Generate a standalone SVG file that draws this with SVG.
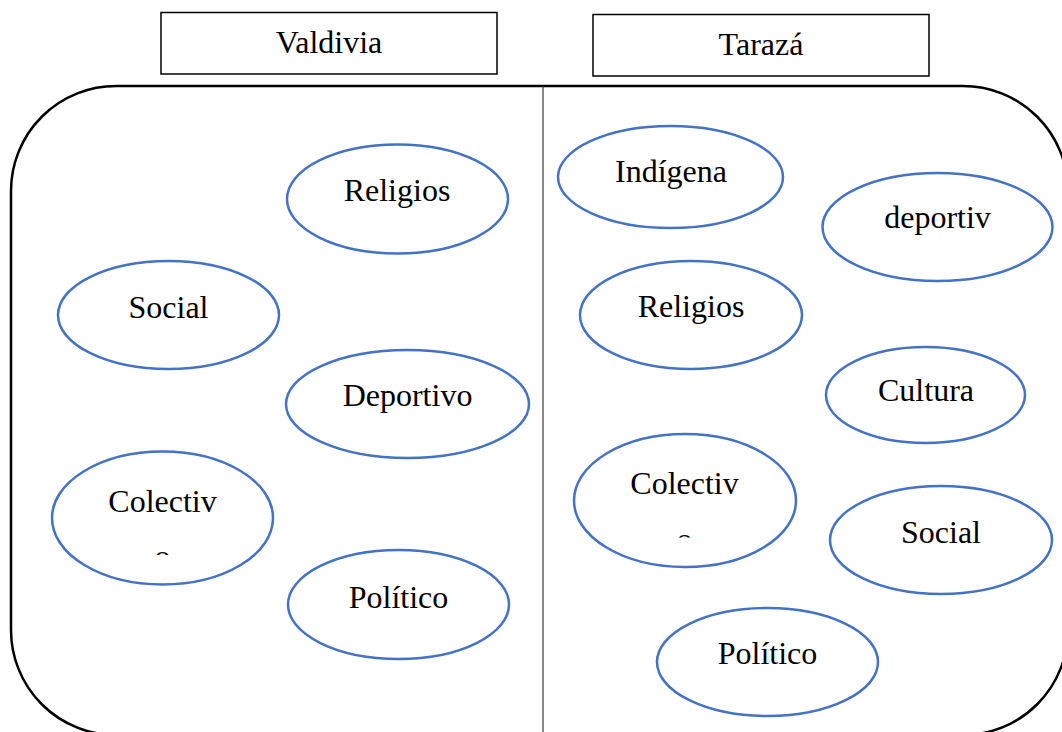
<svg xmlns="http://www.w3.org/2000/svg" width="1062" height="732" viewBox="0 0 1062 732">
<style>
  .hdr { fill: #ffffff; stroke: #000000; stroke-width: 1.5; }
  .frame { fill: none; stroke: #000000; stroke-width: 2.5; }
  .divider { stroke: #3a3a3a; stroke-width: 1.2; }
  .node { fill: #ffffff; stroke: #4472C4; stroke-width: 2.5; }
  .lbl { font-family: "Liberation Serif", "Times New Roman", serif; font-size: 32px; fill: #000000; text-anchor: middle; }
</style>
<defs>
  <clipPath id="clipL"><rect x="0" y="0" width="1062" height="555"/></clipPath>
  <clipPath id="clipR"><rect x="0" y="0" width="1062" height="537.5"/></clipPath>
</defs>
<rect width="1062" height="732" fill="#ffffff"/>
<g id="frame">
  <rect class="frame" x="11" y="86" width="1057" height="649" rx="105" ry="105"/>
  <line class="divider" x1="543" y1="86" x2="543" y2="732"/>
</g>
<g id="connectors"></g>
<g id="header-valdivia">
  <rect class="hdr" x="161" y="12.5" width="336" height="61.5"/>
  <text class="lbl" x="329" y="53">Valdivia</text>
</g>
<g id="header-taraza">
  <rect class="hdr" x="593" y="14.5" width="336" height="61.5"/>
  <text class="lbl" x="761" y="55">Tarazá</text>
</g>
<g id="v-religios">
  <ellipse class="node" cx="397.5" cy="199" rx="110.5" ry="54.5"/>
  <text class="lbl" x="397" y="201">Religios</text>
</g>
<g id="v-social">
  <ellipse class="node" cx="168.5" cy="315" rx="110.5" ry="54"/>
  <text class="lbl" x="168.5" y="318">Social</text>
</g>
<g id="v-deportivo">
  <ellipse class="node" cx="407.5" cy="404" rx="121.5" ry="54"/>
  <text class="lbl" x="407.5" y="406">Deportivo</text>
</g>
<g id="v-colectivo">
  <ellipse class="node" cx="162.5" cy="518" rx="110.5" ry="66.5"/>
  <text class="lbl" x="162.5" y="511.5">Colectiv</text>
  <text class="lbl" x="162.5" y="567" clip-path="url(#clipL)">o</text>
</g>
<g id="v-politico">
  <ellipse class="node" cx="398.5" cy="604.5" rx="110.5" ry="54.5"/>
  <text class="lbl" x="398.5" y="607.5">Político</text>
</g>
<g id="t-indigena">
  <ellipse class="node" cx="670.5" cy="177" rx="112.5" ry="51"/>
  <text class="lbl" x="671" y="182">Indígena</text>
</g>
<g id="t-deportiv">
  <ellipse class="node" cx="937.5" cy="227" rx="115" ry="54"/>
  <text class="lbl" x="937.5" y="228">deportiv</text>
</g>
<g id="t-religios">
  <ellipse class="node" cx="691" cy="315" rx="111" ry="54"/>
  <text class="lbl" x="691" y="317">Religios</text>
</g>
<g id="t-cultura">
  <ellipse class="node" cx="925.5" cy="395" rx="99.5" ry="48"/>
  <text class="lbl" x="926" y="401">Cultura</text>
</g>
<g id="t-colectivo">
  <ellipse class="node" cx="685" cy="500.5" rx="111" ry="66.5"/>
  <text class="lbl" x="684.5" y="494">Colectiv</text>
  <text class="lbl" x="684.5" y="549.5" clip-path="url(#clipR)">o</text>
</g>
<g id="t-social">
  <ellipse class="node" cx="941" cy="540" rx="111" ry="54"/>
  <text class="lbl" x="941" y="543">Social</text>
</g>
<g id="t-politico">
  <ellipse class="node" cx="767.5" cy="662" rx="110.5" ry="54"/>
  <text class="lbl" x="767.5" y="664">Político</text>
</g>
</svg>
